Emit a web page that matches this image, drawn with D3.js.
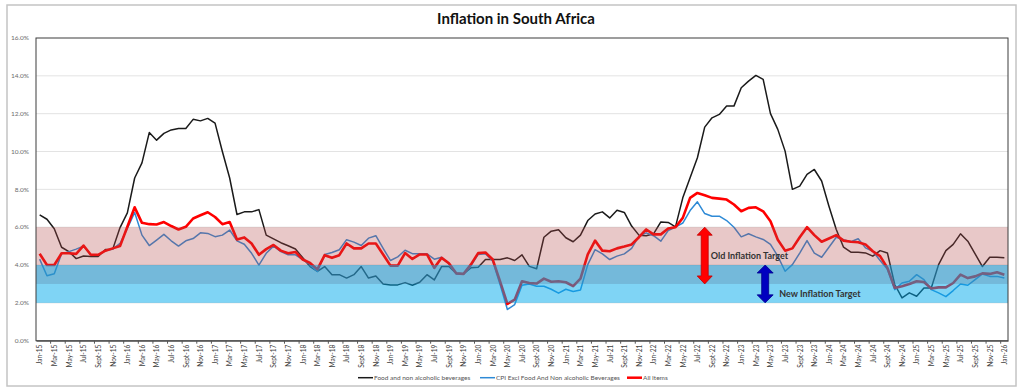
<!DOCTYPE html>
<html><head><meta charset="utf-8">
<script src="https://cdn.jsdelivr.net/npm/d3@7"></script>
<style>
body{margin:0;background:#fff;}
svg{display:block;font-family:Lato,"Open Sans",sans-serif;}
</style>
</head><body>
<svg id="chart" width="1024" height="392"></svg>
<script>
// ---------- DATA ----------
const monthNames = ["Jan","Feb","Mar","Apr","May","Jun","Jul","Aug","Sept","Oct","Nov","Dec"];
const years = ["15","16","17","18","19","20","21","22","23","24","25","26"];
const categories = [];
years.forEach(y => monthNames.forEach(m => categories.push(m + "-" + y)));
categories.length = 133; // Jan-15 .. Jan-26

const tickLabels = ["Jan-15","Mar-15","May-15","Jul-15","Sept-15","Nov-15",
"Jan-16","Mar-16","May-16","Jul-16","Sept-16","Nov-16",
"Jan-17","Mar-17","May-17","Jul-17","Sept-17","Nov-17",
"Jan-18","Mar-18","May-18","Jul-18","Sept-18","Nov-18",
"Jan-19","Mar-19","May-19","Jul-19","Sept-19","Nov-19",
"Jan-20","Mar-20","May-20","Jul-20","Sept-20","Nov-20",
"Jan-21","Mar-21","May-21","Jul-21","Sept-21","Nov-21",
"Jan-22","Mar-22","May-22","Jul-22","Sept-22","Nov-22",
"Jan-23","Mar-23","May-23","Jul-23","Sept-23","Nov-23",
"Jan-24","Mar-24","May-24","Jul-24","Sept-24","Nov-24",
"Jan-25","Mar-25","May-25","Jul-25","Sept-25","Nov-25","Jan-26"];

const food = [
6.65,6.42,5.92,4.94,4.71,4.34,4.48,4.45,4.45,4.82,4.84,5.98,
6.76,8.6,9.4,11.0,10.6,10.96,11.14,11.22,11.22,11.7,11.62,11.75,
11.5,10.0,8.6,6.67,6.81,6.81,6.93,5.58,5.38,5.18,5.02,4.85,
4.38,3.92,3.66,3.92,3.49,3.49,3.31,3.49,3.92,3.31,3.42,3.0,
2.95,2.95,3.07,2.93,3.09,3.49,3.21,3.92,3.92,3.56,3.53,3.85,
3.88,4.29,4.29,4.29,4.38,4.24,4.54,3.93,3.8,5.47,5.79,5.86,
5.44,5.23,5.58,6.35,6.7,6.81,6.49,6.9,6.78,6.06,5.58,5.55,
5.65,6.28,6.25,6.02,7.55,8.61,9.67,11.29,11.78,11.96,12.4,12.4,
13.37,13.72,14.02,13.81,12.0,11.17,10.02,8.0,8.17,8.79,9.05,8.44,
7.11,5.88,4.94,4.68,4.68,4.64,4.47,4.76,4.64,2.97,2.26,2.53,
2.35,2.79,2.79,4.02,4.76,5.09,5.65,5.26,4.59,3.92,4.41,4.41,
4.38];

const cpiExFood = [
4.31,3.43,3.54,4.59,4.71,4.84,5.0,4.54,4.54,4.76,4.84,5.14,
5.93,6.78,5.58,5.03,5.32,5.62,5.28,5.0,5.28,5.4,5.7,5.67,
5.5,5.58,5.85,5.28,5.1,4.62,4.0,4.62,5.0,4.71,4.54,4.54,
4.29,4.02,3.66,4.56,4.66,4.81,5.34,5.21,5.03,5.42,5.55,4.88,
4.24,4.43,4.78,4.6,4.6,4.59,4.31,4.41,4.06,3.53,3.53,3.95,
4.56,4.6,4.2,2.97,1.65,1.91,2.93,3.0,2.88,2.88,2.72,2.51,
2.72,2.6,2.68,4.02,4.81,4.59,4.29,4.47,4.59,4.88,5.53,5.7,
5.55,5.26,5.82,6.0,6.22,6.88,7.34,6.72,6.58,6.58,6.35,6.0,
5.49,5.65,5.49,5.35,5.09,4.47,3.67,4.02,4.63,5.29,4.63,4.41,
4.94,5.47,5.34,5.23,5.39,4.91,4.73,4.24,3.77,2.7,3.05,3.14,
3.49,3.23,2.7,2.53,2.33,2.65,3.0,2.93,3.23,3.53,3.4,3.4,
3.31];

const allItems = [
4.6,4.0,4.0,4.62,4.62,4.59,5.03,4.54,4.54,4.76,4.88,5.0,
6.02,7.05,6.23,6.16,6.14,6.27,6.06,5.88,6.02,6.46,6.63,6.79,
6.54,6.16,6.27,5.35,5.46,5.14,4.54,4.84,5.06,4.76,4.62,4.69,
4.29,4.11,3.77,4.52,4.38,4.52,5.14,4.88,4.88,5.14,5.14,4.56,
3.97,3.97,4.63,4.32,4.56,4.56,3.85,4.38,4.09,3.56,3.53,4.02,
4.63,4.66,4.29,3.14,1.94,2.17,3.14,3.05,3.02,3.28,3.12,3.14,
3.09,2.88,3.28,4.56,5.29,4.76,4.73,4.88,4.98,5.09,5.47,5.88,
5.62,5.62,5.93,6.0,6.49,7.55,7.81,7.69,7.55,7.51,7.46,7.2,
6.84,7.02,7.05,6.84,6.31,5.34,4.76,4.88,5.47,6.0,5.58,5.23,
5.4,5.58,5.29,5.23,5.2,5.09,4.73,4.47,3.85,2.79,2.88,3.0,
3.14,3.1,2.76,2.82,2.82,3.05,3.49,3.31,3.4,3.56,3.53,3.62,
3.49];

const yTicks = [0,2,4,6,8,10,12,14,16];
const oldTarget = [3,6];
const newTarget = [2,4];
const seriesNames = ["Food and non alcoholic beverages","CPI Excl Food And Non alcoholic Beverages","All Items"];

// ---------- CHART ----------
const svg = d3.select("#chart");
const W = 1024, H = 392;
const plot = {left:36, right:1008, top:38, bottom:340.7};

svg.append("rect").attr("width",W).attr("height",H).attr("fill","#fff");
svg.append("rect").attr("x",7).attr("y",5).attr("width",1009).attr("height",381)
  .attr("fill","#fff").attr("stroke","#c4c4c4").attr("stroke-width",1.5);

const x = d3.scalePoint().domain(categories).range([plot.left, plot.right]).padding(0.5);
const step = x.step();
const y = d3.scaleLinear().domain([0,16]).range([plot.bottom, plot.top]);

// gridlines
svg.append("g").selectAll("line").data(yTicks.filter(t => t>0 && t<16)).join("line")
  .attr("x1",plot.left).attr("x2",plot.right)
  .attr("y1",d=>y(d)).attr("y2",d=>y(d))
  .attr("stroke","#e3e3e3").attr("stroke-width",1);

// lines
const line = d3.line().x((d,i)=>x(categories[i])).y(d=>y(d));
const seriesData = [
  {vals: food, color:"#1a1a1a", w:1.5},
  {vals: cpiExFood, color:"#2e8ad6", w:1.5},
  {vals: allItems, color:"#ff0000", w:2.6}
];
svg.append("g").selectAll("path").data(seriesData).join("path")
  .attr("d", d=>line(d.vals)).attr("fill","none")
  .attr("stroke", d=>d.color).attr("stroke-width", d=>d.w)
  .attr("stroke-linejoin","round");

// target bands (semi-transparent, over lines)
svg.append("rect").attr("x",plot.left).attr("width",plot.right-plot.left)
  .attr("y",y(oldTarget[1])).attr("height",y(oldTarget[0])-y(oldTarget[1]))
  .attr("fill","rgb(178,72,72)").attr("fill-opacity",0.3);
svg.append("rect").attr("x",plot.left).attr("width",plot.right-plot.left)
  .attr("y",y(newTarget[1])).attr("height",y(newTarget[0])-y(newTarget[1]))
  .attr("fill","rgb(0,170,235)").attr("fill-opacity",0.5);

// plot border
svg.append("rect").attr("x",plot.left).attr("y",plot.top)
  .attr("width",plot.right-plot.left).attr("height",plot.bottom-plot.top)
  .attr("fill","none").attr("stroke","#3c3c3c").attr("stroke-width",1);

// y axis labels
svg.append("g").selectAll("text").data(yTicks).join("text")
  .attr("x",29).attr("y",d=>y(d)).attr("dy","0.35em")
  .attr("text-anchor","end").attr("font-size",6.5).attr("fill","#6b6b6b")
  .text(d=>d.toFixed(1)+"%");

// x axis
const xAxis = d3.axisBottom(x).tickValues(tickLabels).tickSize(0).tickPadding(0);
const gx = svg.append("g").attr("transform",`translate(0,${plot.bottom})`).call(xAxis);
gx.select(".domain").attr("stroke","#555").attr("stroke-width",1.2);
gx.selectAll("text")
  .attr("font-family","Lato,'Open Sans',sans-serif")
  .attr("font-size",6.6).attr("fill","#404040")
  .attr("text-anchor","end")
  .attr("transform","rotate(-90)")
  .attr("x",-4).attr("y",0).attr("dy","0.35em");
// tick marks at category boundaries (every second)
svg.append("g").selectAll("line").data(tickLabels.slice(1)).join("line")
  .attr("x1",d=>x(d)-step/2).attr("x2",d=>x(d)-step/2)
  .attr("y1",plot.bottom).attr("y2",plot.bottom+3)
  .attr("stroke","#555").attr("stroke-width",1);

// arrows
function dblArrow(cx, y1, y2, hw, sw, hh){
  return `M${cx},${y1} L${cx+hw/2},${y1+hh} L${cx+sw/2},${y1+hh} L${cx+sw/2},${y2-hh} L${cx+hw/2},${y2-hh} L${cx},${y2} L${cx-hw/2},${y2-hh} L${cx-sw/2},${y2-hh} L${cx-sw/2},${y1+hh} L${cx-hw/2},${y1+hh} Z`;
}
const oldX = x("Aug-22");
const newX = x("Apr-23") + 2;
svg.append("path").attr("d",dblArrow(oldX, y(oldTarget[1]), y(oldTarget[0]), 15, 7, 8))
  .attr("fill","#ff0000").attr("stroke","#c00000").attr("stroke-width",0.8);
svg.append("path").attr("d",dblArrow(newX, y(newTarget[1]), y(newTarget[0]), 16, 7, 8))
  .attr("fill","#0000c0").attr("stroke","#00008a").attr("stroke-width",0.8);

svg.append("text").attr("x",oldX+6).attr("y",y(4.5)+3)
  .attr("font-size",9).attr("font-weight","bold").attr("fill","#333")
  .text("Old Inflation Target");
svg.append("text").attr("x",newX+14).attr("y",y(2.45)+3)
  .attr("font-size",9).attr("font-weight","bold").attr("fill","#333")
  .text("New Inflation Target");

// title
svg.append("text").attr("x",516).attr("y",24).attr("text-anchor","middle")
  .attr("font-size",15).attr("font-weight","bold").attr("fill","#111")
  .text("Inflation in South Africa");

// legend
const legendItems = [
  {name: seriesNames[0], color:"#1a1a1a", w:1.5, x:358},
  {name: seriesNames[1], color:"#2e8ad6", w:1.5, x:480},
  {name: seriesNames[2], color:"#ff0000", w:2.5, x:627}
];
const lg = svg.append("g").selectAll("g").data(legendItems).join("g")
  .attr("transform",d=>`translate(${d.x},377.7)`);
lg.append("line").attr("x1",0).attr("x2",15).attr("stroke",d=>d.color).attr("stroke-width",d=>d.w);
lg.append("text").attr("x",16).attr("dy","0.35em").attr("font-size",6.5).attr("fill","#555").text(d=>d.name);
</script>
</body></html>
